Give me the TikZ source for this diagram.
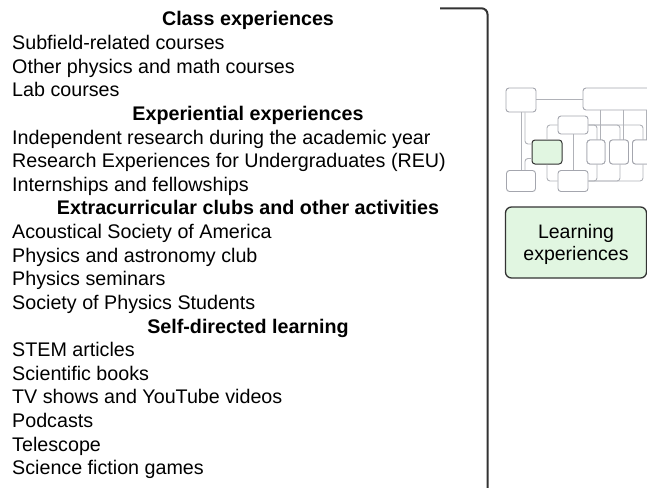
\documentclass[tikz,border=0pt]{standalone}
\usepackage{fontspec}
\setmainfont{Liberation Sans}
\definecolor{brk}{HTML}{333333}
\definecolor{lgreen}{HTML}{E1F6E1}
\definecolor{mgray}{HTML}{A4A6AE}
\definecolor{lgray}{HTML}{B0B2B8}
\begin{document}
\begin{tikzpicture}[x=1pt,y=-1pt,
  txt/.style={inner sep=0pt,font=\fontsize{19.7}{23.6}\selectfont},
  item/.style={txt,anchor=base west},
  head/.style={txt,anchor=base,font=\fontsize{19.7}{23.6}\selectfont\bfseries},
  mini/.style={draw=mgray,line width=0.9pt,fill=white,rounded corners=3pt,inner sep=0pt,minimum width=#1},
  mini/.default=30pt,
  link/.style={draw=lgray,line width=0.9pt,rounded corners=3pt},
  bigbox/.style={draw=brk,line width=1.3pt,fill=lgreen,rounded corners=6pt,inner sep=0pt,
    minimum width=141pt,minimum height=71pt,align=center,font=\fontsize{19.5}{22}\selectfont}
]
\useasboundingbox (0,0) rectangle (647,487);

% list
\node[head] (h1) at (248,25.8) {Class experiences};
\node[item] (t1) at (12,49.4) {Subfield-related courses};
\node[item] (t2) at (12,73.1) {Other physics and math courses};
\node[item] (t3) at (12,96.7) {Lab courses};
\node[head] (h2) at (248,120.3) {Experiential experiences};
\node[item] (t4) at (12,144.0) {Independent research during the academic year};
\node[item] (t5) at (12,167.6) {Research Experiences for Undergraduates (REU)};
\node[item] (t6) at (12,191.2) {Internships and fellowships};
\node[head] (h3) at (248,214.8) {Extracurricular clubs and other activities};
\node[item] (t7) at (12,238.5) {Acoustical Society of America};
\node[item] (t8) at (12,262.1) {Physics and astronomy club};
\node[item] (t9) at (12,285.7) {Physics seminars};
\node[item] (t10) at (12,309.4) {Society of Physics Students};
\node[head] (h4) at (248,333.0) {Self-directed learning};
\node[item] (t11) at (12,356.6) {STEM articles};
\node[item] (t12) at (12,380.2) {Scientific books};
\node[item] (t13) at (12,403.9) {TV shows and YouTube videos};
\node[item] (t14) at (12,427.5) {Podcasts};
\node[item] (t15) at (12,451.1) {Telescope};
\node[item] (t16) at (12,474.8) {Science fiction games};

% bracket
\coordinate (bs) at (440,8.3);
\coordinate (be) at (487.5,495);
\draw[brk,line width=2pt,rounded corners=6pt] (bs) -| (be);

% mini diagram
\begin{scope}
\clip (490,80) rectangle (647,200);
\node[mini=30pt,minimum height=24pt] (A) at (521,100) {};
\node[mini=100pt,minimum height=22pt] (B) at (633,99) {};
\node[mini=30pt,minimum height=18pt] (C) at (573,125) {};
\node[mini=29pt,minimum height=21pt] (E) at (521,181) {};
\node[mini=30pt,minimum height=21pt] (F) at (573,181) {};
\node[mini=18pt,minimum height=24pt] (G) at (596,152) {};
\node[mini=19pt,minimum height=24pt] (H) at (619,152) {};
\node[mini=19pt,minimum height=24pt] (I) at (642,152) {};
\node[draw=brk,line width=1pt,fill=lgreen,rounded corners=3pt,inner sep=0pt,minimum width=30pt,minimum height=24pt] (D) at (547,152) {};

\draw[link] (A.east |- B.west) -- (B.west);
\draw[link] (A.south) -- (E.north);
\draw[link] ([xshift=4pt]A.south) |- ([yshift=8pt]D.west);
\draw[link] ([yshift=-6.5pt]D.west) -| ([xshift=4pt]E.north);
\draw[link] (C.west) -| (D.north);
\draw[link] (D.south) |- (F.west);
\draw[link] (C.south) -- (F.north);
\foreach \n in {G,H,I}{
  \draw[link] ([xshift=4.5pt]\n.north) -- ([xshift=4.5pt]\n.north |- B.south);
  \draw[link] (C.east) -| ([xshift=1pt]\n.north);
  \draw[link] (F.east) -| ([xshift=1pt]\n.south);
}
\node[mini=18pt,minimum height=24pt] at (G) {};
\node[mini=19pt,minimum height=24pt] at (H) {};
\node[mini=19pt,minimum height=24pt] at (I) {};
\end{scope}

% big box
\node[bigbox] (L) at (576,242.5) {\rule{0pt}{18.4pt}Learning\\experiences};
\end{tikzpicture}
\end{document}
